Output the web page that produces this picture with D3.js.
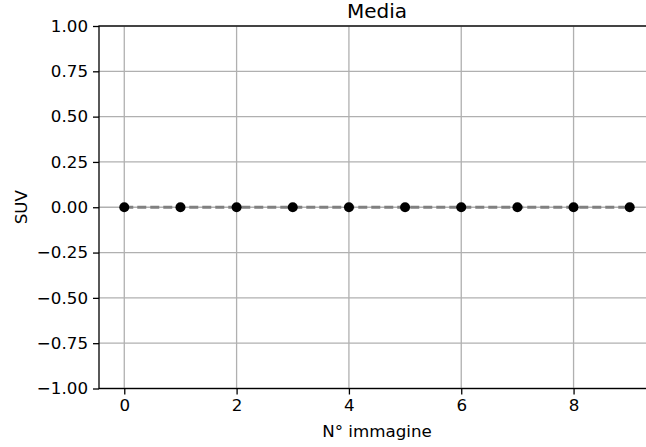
<!DOCTYPE html>
<meta charset="utf-8">
<style>
body { margin: 0; }
svg { font-family: "DejaVu Sans", sans-serif; }
.grid line { stroke: #b0b0b0; stroke-width: 1.3; }
.axis path { display: none; }
.axis line { stroke: #000; stroke-width: 1.3; }
.axis text { font-size: 16.7px; fill: #000; font-family: "DejaVu Sans", sans-serif; }
</style>
<body>
<script src="https://d3js.org/d3.v7.min.js"></script>
<script>

var images = [0, 1, 2, 3, 4, 5, 6, 7, 8, 9];
var suv = [0, 0, 0, 0, 0, 0, 0, 0, 0, 0];
var xTicks = [0, 2, 4, 6, 8];
var yTicks = [-1, -0.75, -0.5, -0.25, 0, 0.25, 0.5, 0.75, 1];

var W = 646, H = 447;
var mLeft = 99, mRight = 655, mTop = 26, mBottom = 388.5;

var x = d3.scaleLinear().domain([-0.45, 9.45]).range([mLeft, mRight]);
var y = d3.scaleLinear().domain([-1, 1]).range([mBottom, mTop]);

var svg = d3.select("body").append("svg")
    .attr("width", W)
    .attr("height", H);

var fmt = function(d) { return d3.format(".2f")(d).replace("-", "\u2212"); };

// grid
var grid = svg.append("g").attr("class", "grid");
grid.selectAll(".gx").data(xTicks).enter().append("line")
    .attr("x1", function(d) { return x(d); }).attr("x2", function(d) { return x(d); })
    .attr("y1", mTop).attr("y2", mBottom);
grid.selectAll(".gy").data(yTicks).enter().append("line")
    .attr("x1", mLeft).attr("x2", mRight)
    .attr("y1", function(d) { return y(d); }).attr("y2", function(d) { return y(d); });

// axes
svg.append("g")
    .attr("class", "axis")
    .attr("transform", "translate(0," + mBottom + ")")
    .call(d3.axisBottom(x).tickValues(xTicks).tickSize(6).tickPadding(5).tickFormat(d3.format("d")));

svg.append("g")
    .attr("class", "axis")
    .attr("transform", "translate(" + mLeft + ",0)")
    .call(d3.axisLeft(y).tickValues(yTicks).tickSize(6).tickPadding(5).tickFormat(fmt));

// spines
svg.append("rect")
    .attr("x", mLeft).attr("y", mTop)
    .attr("width", mRight - mLeft).attr("height", mBottom - mTop)
    .attr("fill", "none").attr("stroke", "#000").attr("stroke-width", 1.3);

// series
var line = d3.line()
    .x(function(d, i) { return x(images[i]); })
    .y(function(d) { return y(d); });

svg.append("path")
    .datum(suv)
    .attr("d", line)
    .attr("fill", "none")
    .attr("stroke", "#808080")
    .attr("stroke-width", 3)
    .attr("stroke-dasharray", "9,4");

svg.selectAll(".dot")
    .data(suv)
  .enter().append("circle")
    .attr("cx", function(d, i) { return x(images[i]); })
    .attr("cy", function(d) { return y(d); })
    .attr("r", 5)
    .attr("fill", "#000");

// labels
svg.append("text")
    .attr("x", (mLeft + mRight) / 2).attr("y", 18)
    .attr("text-anchor", "middle")
    .style("font-size", "20px")
    .text("Media");

svg.append("text")
    .attr("x", (mLeft + mRight) / 2).attr("y", 437)
    .attr("text-anchor", "middle")
    .style("font-size", "16.7px")
    .text("N° immagine");

svg.append("text")
    .attr("transform", "translate(27," + ((mTop + mBottom) / 2) + ") rotate(-90)")
    .attr("text-anchor", "middle")
    .style("font-size", "16.7px")
    .text("SUV");

</script>
